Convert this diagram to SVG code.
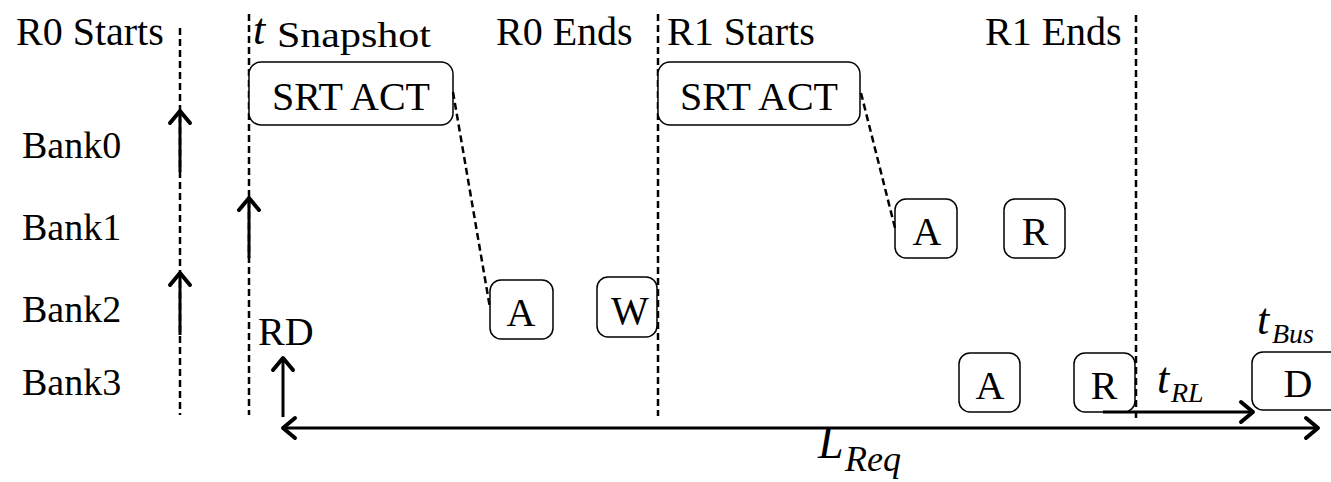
<svg xmlns="http://www.w3.org/2000/svg" width="1331" height="482" viewBox="0 0 1331 482">
  <style>
    text { font-family: "Liberation Serif", "Times New Roman", serif; fill: #000; }
    .lbl { font-size: 38px; }
    .hdr { font-size: 40px; }
    .mid { text-anchor: middle; }
    .var { font-size: 44px; font-style: italic; }
    .sub { font-size: 28px; font-style: italic; }
    .box { fill: #fff; stroke: #000; stroke-width: 1.5; }
    .dash { fill: none; stroke: #000; stroke-width: 2.5; stroke-dasharray: 7 4; }
    .shaft { fill: none; stroke: #000; stroke-width: 3; }
  </style>
  <defs>
    <marker id="chev" viewBox="-16 -14 20 28" markerWidth="20" markerHeight="28" refX="0" refY="0" orient="auto-start-reverse" markerUnits="userSpaceOnUse">
      <path d="M-12,-10 L0,0 L-12,10" fill="none" stroke="#000" stroke-width="4" stroke-linecap="round" stroke-linejoin="round"/>
    </marker>
  </defs>

  <!-- phase boundary lines -->
  <g id="boundaries">
    <line class="dash" x1="180" y1="28" x2="180" y2="415"/>
    <line class="dash" x1="249" y1="14" x2="249" y2="415"/>
    <line class="dash" x1="658" y1="14" x2="658" y2="416"/>
    <line class="dash" x1="1136" y1="15" x2="1136" y2="418"/>
  </g>

  <!-- column headers -->
  <g id="headers">
    <text class="hdr" x="16" y="45">R0 Starts</text>
    <text class="var" x="253" y="44">t</text>
    <text x="277" y="47" style="font-size:35px" textLength="154" lengthAdjust="spacingAndGlyphs">Snapshot</text>
    <text class="hdr" x="496" y="45">R0 Ends</text>
    <text class="hdr" x="667" y="45">R1 Starts</text>
    <text class="hdr" x="985" y="45">R1 Ends</text>
  </g>

  <!-- bank rows -->
  <g id="banks">
    <text class="lbl" x="22" y="158">Bank0</text>
    <text class="lbl" x="22" y="240">Bank1</text>
    <text class="lbl" x="22" y="322">Bank2</text>
    <text class="lbl" x="22" y="395">Bank3</text>
  </g>

  <!-- commands -->
  <g id="r0-srt-act">
    <rect class="box" x="249" y="62" width="204" height="63" rx="12"/>
    <text class="hdr mid" x="351" y="110">SRT ACT</text>
  </g>
  <g id="r1-srt-act">
    <rect class="box" x="658" y="62" width="202" height="63" rx="12"/>
    <text class="hdr mid" x="759" y="110">SRT ACT</text>
  </g>
  <g id="bank2-act">
    <rect class="box" x="490" y="280" width="63" height="59" rx="11"/>
    <text class="hdr mid" x="521" y="326">A</text>
  </g>
  <g id="bank2-wr">
    <rect class="box" x="597" y="277" width="60" height="60" rx="11"/>
    <text class="hdr mid" x="630" y="324">W</text>
  </g>
  <g id="bank1-act">
    <rect class="box" x="895" y="199" width="62" height="59" rx="11"/>
    <text class="hdr mid" x="927" y="245">A</text>
  </g>
  <g id="bank1-rd">
    <rect class="box" x="1004" y="199" width="61" height="59" rx="11"/>
    <text class="hdr mid" x="1035" y="245">R</text>
  </g>
  <g id="bank3-act">
    <rect class="box" x="959" y="353" width="61" height="59" rx="11"/>
    <text class="hdr mid" x="990" y="399">A</text>
  </g>
  <g id="bank3-rd">
    <rect class="box" x="1074" y="353" width="61" height="59" rx="11"/>
    <text class="hdr mid" x="1104" y="399">R</text>
  </g>
  <g id="data">
    <rect class="box" x="1252" y="352" width="100" height="58" rx="11"/>
    <text class="hdr mid" x="1298" y="397">D</text>
  </g>
  <g id="rd-label">
    <text class="hdr" x="258" y="345">RD</text>
  </g>

  <!-- connectors -->
  <g id="connectors">
    <line class="dash" x1="453" y1="92" x2="490" y2="308"/>
    <line class="dash" x1="861" y1="93" x2="895" y2="228"/>

    <line class="shaft" x1="180" y1="172" x2="180" y2="111" marker-end="url(#chev)"/>
    <line class="shaft" x1="180" y1="335" x2="180" y2="273" marker-end="url(#chev)"/>
    <line class="shaft" x1="249" y1="258" x2="249" y2="198" marker-end="url(#chev)"/>
    <line class="shaft" x1="283" y1="417" x2="283" y2="358" marker-end="url(#chev)"/>

    <line class="shaft" x1="1103" y1="412" x2="1253" y2="412" marker-end="url(#chev)"/>
    <line class="shaft" x1="283" y1="428" x2="1318" y2="428" marker-start="url(#chev)" marker-end="url(#chev)"/>
  </g>

  <!-- timing labels -->
  <g id="timing">
    <text class="var" x="1157" y="393">t</text>
    <text class="sub" x="1171" y="402">RL</text>
    <text class="var" x="1257" y="334">t</text>
    <text class="sub" x="1272" y="343">Bus</text>
    <text class="var" x="818" y="458" style="font-size:46px">L</text>
    <text class="sub" x="845" y="471" style="font-size:36px">Req</text>
  </g>
</svg>
